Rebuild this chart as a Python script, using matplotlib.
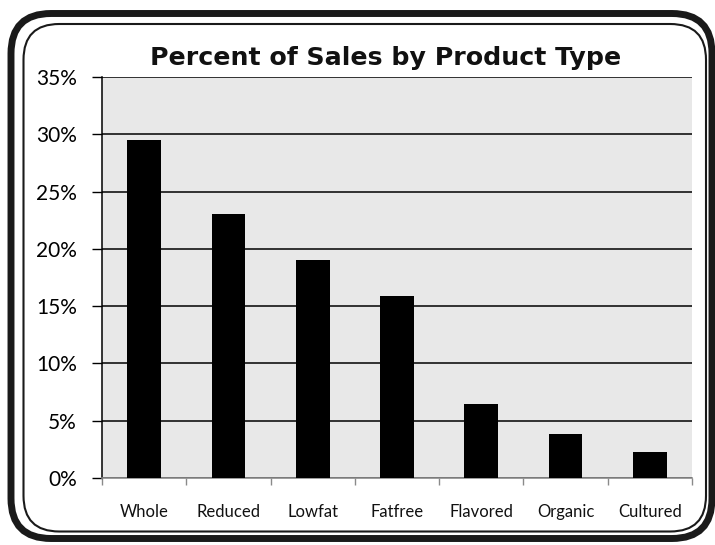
import matplotlib.pyplot as plt
from matplotlib.patches import FancyBboxPatch
from matplotlib.ticker import FixedLocator, PercentFormatter

categories = ['Whole', 'Reduced', 'Lowfat', 'Fatfree', 'Flavored', 'Organic', 'Cultured']
sales_pct = [29.5, 23.0, 19.0, 15.9, 6.5, 3.8, 2.3]
y_ticks = [0, 5, 10, 15, 20, 25, 30, 35]

W, H = 715, 545
fig = plt.figure(figsize=(W / 100, H / 100), dpi=100)

# rounded double frame around the chart
outer = FancyBboxPatch((11 / W, 6.5 / H), 701 / W, 525 / H,
                       boxstyle='round,pad=0,rounding_size=0.056',
                       transform=fig.transFigure, fill=False,
                       edgecolor='#1a1a1a', linewidth=5, mutation_aspect=W / H)
inner = FancyBboxPatch((23.5 / W, 13.5 / H), 682.5 / W, 507.5 / H,
                       boxstyle='round,pad=0,rounding_size=0.05',
                       transform=fig.transFigure, fill=False,
                       edgecolor='#1a1a1a', linewidth=1.5, mutation_aspect=W / H)
fig.patches.extend([outer, inner])

ax = fig.add_axes([102 / W, 67 / H, 590 / W, 401 / H])
ax.set_facecolor('#e8e8e8')

x = range(len(categories))
ax.bar(x, sales_pct, width=0.4, color='black', zorder=3)

ax.set_xlim(-0.5, len(categories) - 0.5)
ax.set_ylim(0, 35)
ax.yaxis.set_major_locator(FixedLocator(y_ticks))
ax.yaxis.set_major_formatter(PercentFormatter(decimals=0))
ax.grid(axis='y', color='black', linewidth=1.1, zorder=1)
ax.set_axisbelow(True)

ax.xaxis.set_major_locator(FixedLocator([i - 0.5 for i in range(len(categories) + 1)]))
ax.xaxis.set_major_formatter(plt.NullFormatter())
ax.xaxis.set_minor_locator(FixedLocator(list(x)))
ax.set_xticklabels(categories, minor=True)
ax.tick_params(axis='x', which='major', direction='out', length=5, color='#8a8a8a', width=1)
ax.tick_params(axis='x', which='minor', length=0, pad=19, labelsize=12, labelcolor='#111111')
for lab in ax.get_xticklabels(minor=True):
    lab.set_fontfamily('Lato')
ax.tick_params(axis='y', direction='out', length=7, width=1, color='black', pad=11, labelsize=15)
for lab in ax.get_yticklabels():
    lab.set_fontfamily('Lato')

ax.spines['top'].set_visible(False)
ax.spines['right'].set_visible(False)
ax.spines['left'].set_color('black')
ax.spines['left'].set_linewidth(1.1)
ax.spines['bottom'].set_color('#8a8a8a')
ax.spines['bottom'].set_linewidth(1.2)

fig.text(385.5 / W, 1 - 58 / H, 'Percent of Sales by Product Type', ha='center', va='center',
         fontsize=18.2, fontweight='bold', family='DejaVu Sans', color='#111111')

fig.savefig('out.png', dpi=100)
